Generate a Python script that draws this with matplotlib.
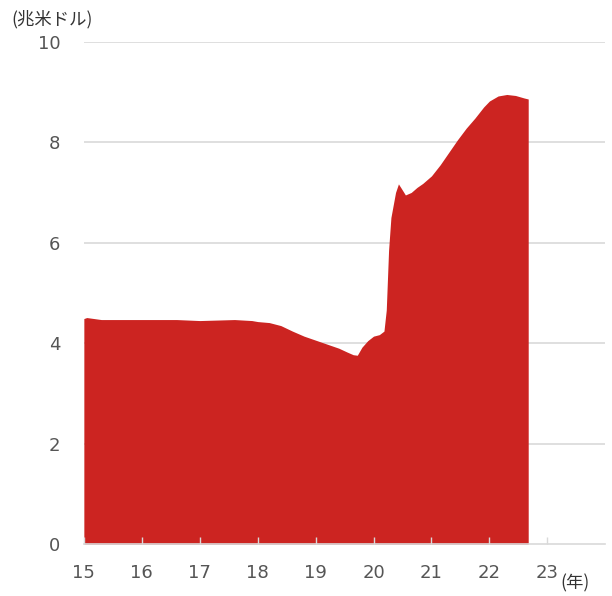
import matplotlib
matplotlib.use('Agg')
import matplotlib.pyplot as plt

plt.rcParams['font.family'] = ['DejaVu Sans', 'Noto Sans CJK JP']

# Fed balance sheet, trillion USD
years = [15.0, 15.05, 15.3, 15.6, 16.0, 16.3, 16.6, 17.0, 17.3, 17.6, 17.9,
         18.0, 18.2, 18.4, 18.6, 18.8, 19.0, 19.2, 19.4, 19.55, 19.65,
         19.72, 19.8, 19.9, 20.0, 20.1, 20.18, 20.22, 20.26, 20.3, 20.34,
         20.38, 20.43, 20.48, 20.55, 20.65, 20.75, 20.85, 21.0, 21.15, 21.3,
         21.45, 21.6, 21.75, 21.9, 22.0, 22.15, 22.3, 22.45, 22.6, 22.67]
assets = [4.49, 4.51, 4.47, 4.47, 4.47, 4.47, 4.47, 4.45, 4.46, 4.47, 4.45,
          4.43, 4.41, 4.35, 4.24, 4.14, 4.06, 3.98, 3.90, 3.82, 3.77,
          3.76, 3.92, 4.05, 4.14, 4.17, 4.24, 4.66, 5.85, 6.50, 6.75,
          7.00, 7.17, 7.08, 6.95, 7.00, 7.10, 7.18, 7.33, 7.55, 7.80,
          8.05, 8.28, 8.48, 8.70, 8.82, 8.92, 8.95, 8.93, 8.88, 8.86]

fig = plt.figure(figsize=(6.12, 5.96), dpi=100)
ax = fig.add_axes([0.137, 0.087, 0.852, 0.843])

for v in range(2, 11, 2):
    ax.axhline(v, color='#d9d9d9', linewidth=1.2, zorder=0)
ax.fill_between(years, assets, 0, color='#cc2421', linewidth=0, zorder=2)

ax.set_xlim(15, 24)
ax.set_ylim(0, 10)
ax.set_xticks(range(15, 24))
ax.set_yticks(range(0, 11, 2))
ax.set_axisbelow(False)
for s in ['top', 'right', 'left']:
    ax.spines[s].set_visible(False)
ax.spines['bottom'].set_color('#d9d9d9')
ax.spines['bottom'].set_linewidth(1.2)
ax.tick_params(axis='x', direction='in', length=5, color='#d9d9d9', width=1,
               labelsize=13, labelcolor='#555555', pad=14)
ax.tick_params(axis='y', length=0, labelsize=13, labelcolor='#555555', pad=17)

fig.text(0.018, 0.968, '(兆米ドル)', fontsize=12.5, color='#333333',
         family=['Noto Sans CJK JP', 'DejaVu Sans'], va='center')
fig.text(0.915, 0.022, '(年)', fontsize=12.5, color='#333333',
         family=['Noto Sans CJK JP', 'DejaVu Sans'], va='center')

fig.savefig('out.png', dpi=100)
